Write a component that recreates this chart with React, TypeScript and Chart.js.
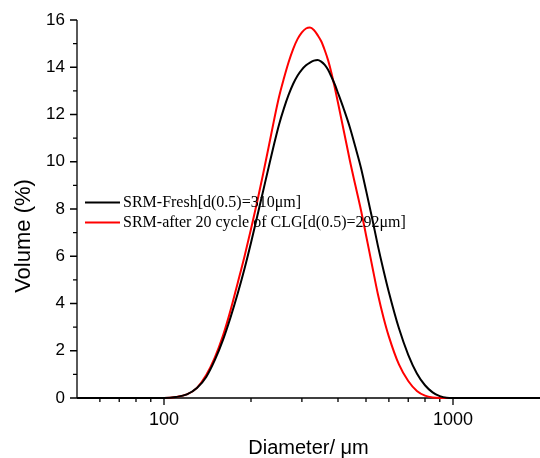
import React, { useEffect, useRef } from 'react';
import { Chart, registerables } from 'chart.js';

Chart.register(...registerables);

// ---- data ----
const diameters = [
  50, 100, 110, 120, 130, 140, 150, 160, 170, 180, 190, 200, 210, 220, 230, 240, 250,
  260, 270, 280, 290, 300, 310, 320, 330, 340, 350, 360, 370, 380, 390, 400, 420, 440,
  460, 480, 500, 525, 550, 575, 600, 650, 700, 750, 800, 850, 900, 950, 1000, 2000,
];

const freshVolume = [
  0, 0, 0.04, 0.15, 0.42, 0.89, 1.61, 2.46, 3.42, 4.43, 5.48, 6.57, 7.67, 8.73, 9.75, 10.71, 11.57,
  12.26, 12.84, 13.3, 13.65, 13.9, 14.08, 14.2, 14.28, 14.31, 14.24, 14.1, 13.88, 13.58, 13.27, 12.91, 12.19, 11.44,
  10.6, 9.76, 8.8, 7.61, 6.43, 5.4, 4.48, 2.95, 1.83, 1.04, 0.54, 0.24, 0.08, 0.01, 0, 0,
];

const cycledVolume = [
  0, 0, 0.04, 0.15, 0.43, 0.97, 1.72, 2.64, 3.72, 4.88, 6.0, 7.15, 8.3, 9.45, 10.6, 11.73, 12.74,
  13.53, 14.22, 14.78, 15.2, 15.48, 15.64, 15.68, 15.58, 15.36, 15.1, 14.72, 14.28, 13.74, 13.13, 12.5, 11.24, 10.03,
  8.97, 7.97, 6.9, 5.6, 4.38, 3.4, 2.6, 1.42, 0.72, 0.3, 0.1, 0.02, 0, 0, 0, 0,
];

const seriesLabels = ['SRM-Fresh[d(0.5)=310\u03bcm]', 'SRM-after 20 cycle of CLG[d(0.5)=292\u03bcm]'];
const seriesColors = ['#000000', '#ff0000'];

const xMajorTicks = [100, 1000];
const xMinorTicks = [60, 70, 80, 90, 200, 300, 400, 500, 600, 700, 800, 900];
const yMajorTicks = [0, 2, 4, 6, 8, 10, 12, 14, 16];
const yMinorTicks = [1, 3, 5, 7, 9, 11, 13, 15];

const xTitle = 'Diameter/ \u03bcm';
const yTitle = 'Volume (%)';

// ---- layout / style ----
const W = 540;
const H = 458;
const SANS = "'Liberation Sans', Arial, sans-serif";
const SERIF = "'Liberation Serif', 'Times New Roman', serif";

const decorPlugin = {
  id: 'decor',
  beforeDatasetsDraw(chart: any) {
    const { ctx, chartArea, scales } = chart;
    const { left, right, top, bottom } = chartArea;
    const x = scales.x;
    const y = scales.y;
    ctx.save();
    ctx.strokeStyle = '#000';
    ctx.lineWidth = 1.3;
    ctx.beginPath();
    ctx.moveTo(left, top);
    ctx.lineTo(left, bottom);
    ctx.lineTo(right, bottom);
    for (const v of yMajorTicks) {
      const py = y.getPixelForValue(v);
      ctx.moveTo(left, py);
      ctx.lineTo(left - 7, py);
    }
    for (const v of yMinorTicks) {
      const py = y.getPixelForValue(v);
      ctx.moveTo(left, py);
      ctx.lineTo(left - 4, py);
    }
    for (const v of xMajorTicks) {
      const px = x.getPixelForValue(v);
      ctx.moveTo(px, bottom);
      ctx.lineTo(px, bottom + 7);
    }
    for (const v of xMinorTicks) {
      const px = x.getPixelForValue(v);
      ctx.moveTo(px, bottom);
      ctx.lineTo(px, bottom + 4);
    }
    ctx.stroke();
    ctx.restore();
  },
  afterDraw(chart: any) {
    const { ctx, chartArea } = chart;
    const { left, right } = chartArea;
    ctx.save();
    // legend
    ctx.font = `16px ${SERIF}`;
    ctx.textBaseline = 'middle';
    ctx.textAlign = 'left';
    chart.data.datasets.forEach((ds: any, i: number) => {
      const ly = 202.5 + i * 20;
      ctx.strokeStyle = ds.borderColor;
      ctx.lineWidth = 2;
      ctx.beginPath();
      ctx.moveTo(85, ly);
      ctx.lineTo(120, ly);
      ctx.stroke();
      ctx.fillStyle = '#000';
      ctx.fillText(ds.label, 123, ly + 0.5);
    });
    // axis titles
    ctx.fillStyle = '#000';
    ctx.font = `20px ${SANS}`;
    ctx.textAlign = 'center';
    ctx.textBaseline = 'alphabetic';
    ctx.fillText(xTitle, (left + right) / 2, 454);
    ctx.translate(24, 236);
    ctx.rotate(-Math.PI / 2);
    ctx.textBaseline = 'middle';
    ctx.font = `22px ${SANS}`;
    ctx.fillText(yTitle, 0, 0);
    ctx.restore();
  },
};

export default function App() {
  const ref = useRef<HTMLCanvasElement>(null);

  useEffect(() => {
    const canvas = ref.current;
    if (!canvas) return;
    const toPoints = (vals: number[]) => diameters.map((d, i) => ({ x: d, y: vals[i] }));
    const chart = new Chart(canvas, {
      type: 'line',
      data: {
        datasets: [
          {
            label: seriesLabels[0],
            data: toPoints(freshVolume),
            borderColor: seriesColors[0],
            borderWidth: 2,
            pointRadius: 0,
            fill: false,
            cubicInterpolationMode: 'monotone',
            clip: false,
          },
          {
            label: seriesLabels[1],
            data: toPoints(cycledVolume),
            borderColor: seriesColors[1],
            borderWidth: 2,
            pointRadius: 0,
            fill: false,
            cubicInterpolationMode: 'monotone',
            clip: false,
          },
        ],
      } as any,
      options: {
        responsive: false,
        animation: false,
        layout: { padding: { top: 20, left: 0, right: 0, bottom: 0 } },
        plugins: { legend: { display: false }, tooltip: { enabled: false } },
        scales: {
          x: {
            type: 'logarithmic',
            min: 50,
            max: 2000,
            grid: { display: false, drawTicks: false },
            border: { display: false },
            ticks: {
              autoSkip: false,
              maxRotation: 0,
              minRotation: 0,
              padding: 11,
              color: '#000',
              font: { family: SANS, size: 18 },
              callback: (v: any) => (v === 100 || v === 1000 ? String(v) : ''),
            },
            afterFit: (s: any) => {
              s.height = 60;
              s.paddingLeft = 0;
              s.paddingRight = 0;
            },
          },
          y: {
            type: 'linear',
            min: 0,
            max: 16,
            grid: { display: false, drawTicks: false },
            border: { display: false },
            ticks: {
              stepSize: 2,
              padding: 12,
              color: '#000',
              font: { family: SANS, size: 17 },
            },
            afterFit: (s: any) => {
              s.width = 77;
              s.paddingTop = 0;
              s.paddingBottom = 0;
            },
          },
        },
      } as any,
      plugins: [decorPlugin],
    });
    return () => chart.destroy();
  }, []);

  return (
    <div style={{ position: 'absolute', left: 0, top: 0, width: W, height: H, background: '#fff' }}>
      <canvas ref={ref} width={W} height={H} style={{ display: 'block', width: W, height: H }} />
    </div>
  );
}
